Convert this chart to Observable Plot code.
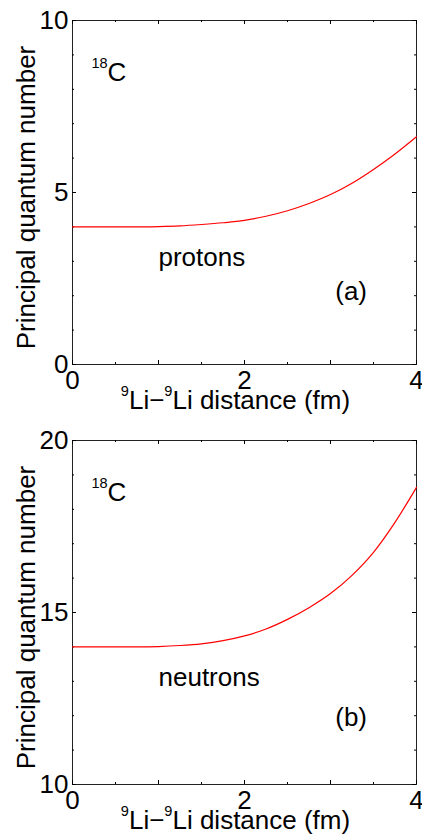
<!DOCTYPE html>
<html>
<head>
<meta charset="utf-8">
<script src="https://cdn.jsdelivr.net/npm/d3@7"></script>
<script src="https://cdn.jsdelivr.net/npm/@observablehq/plot@0.6"></script>
<style>
  body { margin: 0; background: #fff; }
  #chart svg { display: block; }
</style>
</head>
<body>
<div id="chart"></div>
<script>
// ---- data ----
const distance = [0, 0.25, 0.5, 0.75, 1, 1.25, 1.5, 1.75, 2, 2.25, 2.5, 2.75, 3, 3.25, 3.5, 3.75, 4];
const protonN  = [4.0, 4.0, 4.0, 4.0, 4.01, 4.03, 4.07, 4.12, 4.19, 4.31, 4.47, 4.68, 4.94, 5.27, 5.67, 6.12, 6.62];
const neutronN = [14.0, 14.0, 14.0, 14.0, 14.01, 14.04, 14.09, 14.18, 14.32, 14.52, 14.8, 15.14, 15.55, 16.08, 16.75, 17.62, 18.64];

const xTickLabels = [0, 2, 4];
const xMajorTicks = [0, 1, 2, 3, 4];
const xMinorTicks = [0.5, 1.5, 2.5, 3.5];

const yTickLabelsA = [0, 5, 10];
const yMinorTicksA = [1, 2, 3, 4, 6, 7, 8, 9];
const yTickLabelsB = [10, 15, 20];
const yMinorTicksB = [11, 12, 13, 14, 16, 17, 18, 19];

const isotopeLabel = "¹⁸C";
const particleLabels = ["protons", "neutrons"];
const panelTags = ["(a)", "(b)"];
const xLabel = "⁹Li−⁹Li distance (fm)";
const yLabel = "Principal quantum number";

// ---- layout ----
const W = 422, H = 420;
const mL = 72, mR = 6, mT = 20, mB = 56;
const innerW = W - mL - mR, innerH = H - mT - mB;
const FONT = "'Liberation Sans', Arial, Helvetica, sans-serif";
const FS = 26;

const SUP = {"¹": "1", "⁸": "8", "⁹": "9"};
function liftSuperscripts(svg) {
  svg.querySelectorAll("text").forEach(t => {
    const s = t.textContent;
    if (![...s].some(c => SUP[c])) return;
    const fs = parseFloat(t.getAttribute("font-size")) ||
               parseFloat(t.parentNode.getAttribute("font-size")) ||
               parseFloat(getComputedStyle(t).fontSize) || FS;
    const runs = [];
    for (const c of s) {
      const sup = !!SUP[c];
      const ch = SUP[c] || c;
      if (runs.length && runs[runs.length - 1].sup === sup) runs[runs.length - 1].text += ch;
      else runs.push({sup, text: ch});
    }
    t.textContent = "";
    let raised = false;
    for (const r of runs) {
      const ts = document.createElementNS("http://www.w3.org/2000/svg", "tspan");
      ts.textContent = r.text;
      if (r.sup) {
        ts.setAttribute("font-size", (0.56 * fs) + "px");
        ts.setAttribute("dy", -0.5 * fs);
        raised = true;
      } else if (raised) {
        ts.setAttribute("dy", 0.5 * fs);
        raised = false;
      }
      t.appendChild(ts);
    }
  });
}

function panel({values, yDomain, yLabels, yMinor, particle, tag, offset, tagY}) {
  const rows = distance.map((d, i) => ({d, n: values[i]}));
  const svg = Plot.plot({
    width: W, height: H,
    marginLeft: mL, marginRight: mR, marginTop: mT, marginBottom: mB,
    style: {fontFamily: FONT, fontSize: FS + "px", color: "#000", background: "#fff", overflow: "visible"},
    x: {domain: [0, 4]},
    y: {domain: yDomain},
    marks: [
      Plot.frame({stroke: "#222", strokeWidth: 1}),
      // inward ticks on all four sides
      Plot.tickX(xMajorTicks, {x: d => d, insetTop: innerH - 4, stroke: "#000"}),
      Plot.tickX(xMinorTicks, {x: d => d, insetTop: innerH - 2, stroke: "#000"}),
      Plot.tickX(xMajorTicks, {x: d => d, insetBottom: innerH - 4, stroke: "#000"}),
      Plot.tickX(xMinorTicks, {x: d => d, insetBottom: innerH - 2, stroke: "#000"}),
      Plot.tickY(yLabels, {y: d => d, insetRight: innerW - 4, stroke: "#000"}),
      Plot.tickY(yMinor, {y: d => d, insetRight: innerW - 2, stroke: "#000"}),
      Plot.tickY(yLabels, {y: d => d, insetLeft: innerW - 4, stroke: "#000"}),
      Plot.tickY(yMinor, {y: d => d, insetLeft: innerW - 2, stroke: "#000"}),
      Plot.axisX(xTickLabels, {tickSize: 0, tickPadding: 6, fontSize: FS, label: null}),
      Plot.axisY(yLabels, {tickSize: 0, tickPadding: 4, fontSize: FS, label: null}),
      Plot.line(rows, {x: "d", y: "n", stroke: "#ff0000", strokeWidth: 1.2, curve: "monotone-x"}),
      Plot.text([isotopeLabel], {x: 0.22, y: offset + 8.49, text: d => d, textAnchor: "start", fontSize: FS}),
      Plot.text([particle], {x: 1.0, y: offset + 3.1, text: d => d, textAnchor: "start", fontSize: FS}),
      Plot.text([tag], {x: 3.24, y: offset + tagY, text: d => d, textAnchor: "middle", fontSize: FS}),
      Plot.text([xLabel], {frameAnchor: "bottom", text: d => d, textAnchor: "middle", lineAnchor: "middle",
        dy: 36, dx: -9, fontSize: FS}),
      Plot.text([yLabel], {frameAnchor: "left", text: d => d, rotate: -90, textAnchor: "middle", lineAnchor: "middle",
        dx: -46, dy: 5, fontSize: FS})
    ]
  });
  liftSuperscripts(svg);
  return svg;
}

const chart = document.getElementById("chart");
chart.appendChild(panel({values: protonN, yDomain: [0, 10], yLabels: yTickLabelsA, yMinor: yMinorTicksA,
  particle: particleLabels[0], tag: panelTags[0], offset: 0, tagY: 2.11}));
chart.appendChild(panel({values: neutronN, yDomain: [10, 20], yLabels: yTickLabelsB, yMinor: yMinorTicksB,
  particle: particleLabels[1], tag: panelTags[1], offset: 10, tagY: 1.94}));
</script>
</body>
</html>
